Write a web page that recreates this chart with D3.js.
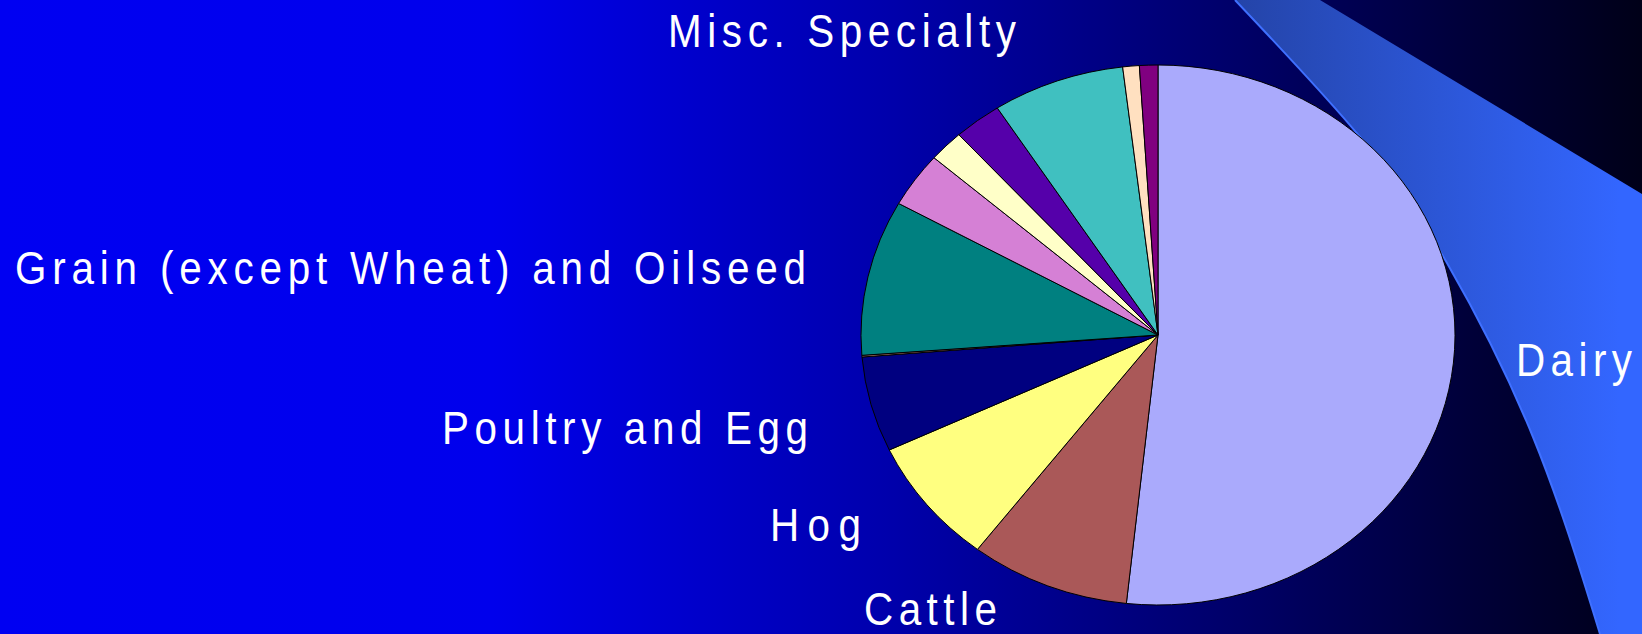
<!DOCTYPE html>
<html>
<head>
<meta charset="utf-8">
<script src="https://cdn.jsdelivr.net/npm/d3@7"></script>
<style>
  html, body { margin: 0; padding: 0; background: #000018; overflow: hidden; }
  svg { display: block; }
</style>
</head>
<body>
<svg id="chart" width="1642" height="634"></svg>
<script>
// Farm types, clockwise from 12 o'clock
const categories = [
  "Dairy", "Cattle", "Hog", "Poultry and Egg", "Sheep and Goat",
  "Grain (except Wheat) and Oilseed", "Vegetable and Melon", "Fruit and Nut",
  "Greenhouse and Nursery", "Misc. Specialty", "Wheat", "Other Animal"
];
// Share of farms, percent
const shares = [51.7, 8.7, 7.6, 5.7, 0.1, 9.3, 3.3, 1.9, 2.6, 7.2, 0.9, 1.0];
const sliceColors = [
  "#aaaafc", "#aa5858", "#ffff80", "#000080", "#c08070",
  "#008080", "#d580d5", "#ffffc8", "#5500aa", "#40c0c0", "#ffe0c0", "#800080"
];
// Categories that carry a text label on the slide
const labelled = ["Misc. Specialty", "Grain (except Wheat) and Oilseed", "Poultry and Egg", "Hog", "Cattle", "Dairy"];

// ---- layout ----
const W = 1642, H = 634;
const cx = 1158, cy = 335, ry = 270, stretchX = 1.1;
const fontSize = 47, glyphScale = 0.86;
// left x, baseline y and rendered width of each label
const labelLayout = {
  "Misc. Specialty": [668, 47, 348],
  "Grain (except Wheat) and Oilseed": [15, 284, 791],
  "Poultry and Egg": [442, 444, 366],
  "Hog": [770, 541, 91],
  "Cattle": [864, 625, 133],
  "Dairy": [1516, 376, 116]
};
// decorative swoosh on the right side
const swooshEdge = [[1235, 0], [1360, 137], [1447, 263], [1533, 437], [1600, 634]];

const svg = d3.select("#chart");
const defs = svg.append("defs");

const bg = defs.append("linearGradient").attr("id", "bgGrad")
  .attr("gradientUnits", "userSpaceOnUse").attr("x1", 0).attr("x2", W).attr("y1", 0).attr("y2", 0);
[[0, "rgb(0,0,242)"], [0.30, "rgb(0,0,236)"], [0.54, "rgb(0,0,172)"],
 [0.70, "rgb(0,0,122)"], [0.886, "rgb(0,0,60)"], [1, "rgb(0,0,24)"]]
  .forEach(([o, c]) => bg.append("stop").attr("offset", o).attr("stop-color", c));

const sw = defs.append("linearGradient").attr("id", "swGrad")
  .attr("gradientUnits", "userSpaceOnUse").attr("x1", 1235).attr("x2", 1620).attr("y1", 0).attr("y2", 0);
[[0, "rgb(36,68,168)"], [1, "rgb(51,102,255)"]]
  .forEach(([o, c]) => sw.append("stop").attr("offset", o).attr("stop-color", c));

svg.append("rect").attr("width", W).attr("height", H).attr("fill", "url(#bgGrad)");

// swoosh band
const edgeLine = d3.line().curve(d3.curveNatural);
const bandPath = edgeLine(swooshEdge) + `L${W},${H}L${W},194L1320,0Z`;
svg.append("path").attr("d", bandPath).attr("fill", "url(#swGrad)");
svg.append("path").attr("d", edgeLine(swooshEdge))
  .attr("fill", "none").attr("stroke", "#3f70ff").attr("stroke-width", 2);

// pie
const pie = d3.pie().sort(null).value(d => d.value);
const arcs = pie(categories.map((c, i) => ({ name: c, value: shares[i], color: sliceColors[i] })));
const arc = d3.arc().innerRadius(0).outerRadius(ry);

svg.append("g")
  .attr("transform", `translate(${cx},${cy}) scale(${stretchX},1)`)
  .selectAll("path").data(arcs).join("path")
  .attr("d", arc)
  .attr("fill", d => d.data.color)
  .attr("stroke", "#000")
  .attr("stroke-width", 1)
  .attr("vector-effect", "non-scaling-stroke")
  .attr("stroke-linejoin", "round");

// labels
svg.append("g").selectAll("text").data(labelled).join("text")
  .attr("transform", d => `translate(${labelLayout[d][0]},${labelLayout[d][1]}) scale(${glyphScale},1)`)
  .attr("font-family", "'Liberation Sans', Arial, sans-serif")
  .attr("font-size", fontSize)
  .attr("fill", "#fff")
  .attr("textLength", d => labelLayout[d][2] / glyphScale)
  .attr("lengthAdjust", "spacing")
  .text(d => d);
</script>
</body>
</html>
